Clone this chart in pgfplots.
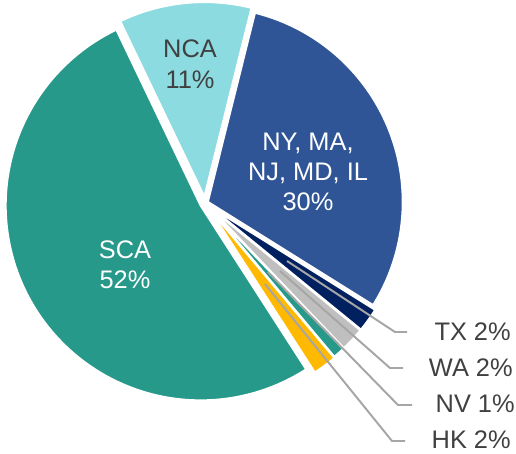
\documentclass[border=0pt]{standalone}
\usepackage{fontspec}
\setmainfont{Liberation Sans}
\usepackage{pgfplots}
\pgfplotsset{compat=1.18}
\definecolor{cSCA}{HTML}{26998A}
\definecolor{cNCA}{HTML}{8BDBE0}
\definecolor{cNY}{HTML}{2F5597}
\definecolor{cTX}{HTML}{002060}
\definecolor{cWA}{HTML}{BFBFBF}
\definecolor{cNV}{HTML}{26998A}
\definecolor{cHK}{HTML}{FFB900}
\definecolor{cLine}{HTML}{A6A6A6}
\definecolor{cText}{HTML}{404040}
\newcommand\curang{76}
% #1 value (percent), #2 colour, #3 explode offset
\newcommand\pieslice[3]{%
  \pgfmathsetmacro\aS{\curang}%
  \pgfmathsetmacro\aE{\curang-3.6*#1}%
  \pgfmathsetmacro\aM{(\aS+\aE)/2}%
  \pgfmathsetmacro\ox{205+#3*cos(\aM)}%
  \pgfmathsetmacro\oy{203-#3*sin(\aM)}%
  \addplot[fill=#2, draw=white, line width=1.4pt, line join=round,
    samples at={-1,0,...,101}, variable=\t]
   ({\ox + and(\t>=0,\t<=100)*195*cos(\aS+(\aE-\aS)*min(max(\t,0),100)/100)},
    {\oy - and(\t>=0,\t<=100)*195*sin(\aS+(\aE-\aS)*min(max(\t,0),100)/100)});
  \xdef\curang{\aE}%
}
\begin{document}
\begin{tikzpicture}
\begin{axis}[scale only axis, width=12cm, height=10.535cm,
  xmin=0, xmax=516, ymin=0, ymax=453, y dir=reverse,
  hide axis, clip=false]
\path (axis cs:0,0) rectangle (axis cs:516,453);
\pieslice{30}{cNY}{3}
\pieslice{2}{cTX}{6}
\pieslice{2}{cWA}{6}
\pieslice{1}{cNV}{6}
\pieslice{2}{cHK}{7}
\pieslice{52}{cSCA}{5}
\pieslice{11}{cNCA}{6}
% leader lines
\addplot[cLine, line width=1.3pt, no markers] coordinates {(287,261) (395,332) (407,332)};
\addplot[cLine, line width=1.3pt, no markers] coordinates {(280,271) (390,368) (403,368)};
\addplot[cLine, line width=1.3pt, no markers] coordinates {(268,272) (398,405) (412,405)};
\addplot[cLine, line width=1.3pt, no markers] coordinates {(265,284) (392,441) (405,441)};
% labels
\node[font=\fontsize{16.8}{20.5}\selectfont, text=cText, align=center] at (axis cs:190,64) {NCA\\11\%};
\node[font=\fontsize{16.8}{19.8}\selectfont, text=white, align=center] at (axis cs:308,172) {NY, MA,\\NJ, MD, IL\\30\%};
\node[font=\fontsize{16.8}{19.8}\selectfont, text=white, align=center] at (axis cs:125,265) {SCA\\52\%};
\node[font=\fontsize{16.8}{20}\selectfont, text=cText, anchor=east, inner sep=0pt] at (axis cs:511,332) {TX 2\%};
\node[font=\fontsize{16.8}{20}\selectfont, text=cText, anchor=east, inner sep=0pt] at (axis cs:513,368) {WA 2\%};
\node[font=\fontsize{16.8}{20}\selectfont, text=cText, anchor=east, inner sep=0pt] at (axis cs:515,404) {NV 1\%};
\node[font=\fontsize{16.8}{20}\selectfont, text=cText, anchor=east, inner sep=0pt] at (axis cs:511,440) {HK 2\%};
\end{axis}
\end{tikzpicture}
\end{document}
